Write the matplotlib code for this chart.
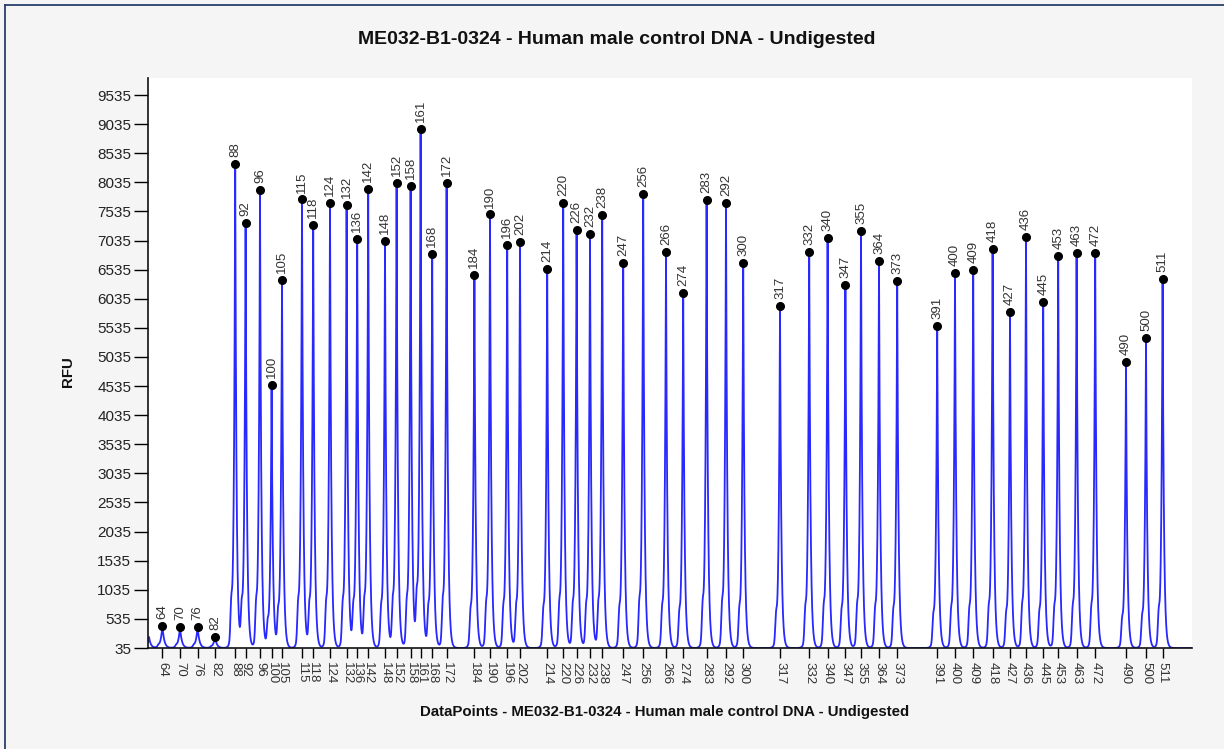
import numpy as np
import matplotlib
matplotlib.use("Agg")
import matplotlib.pyplot as plt
from matplotlib.lines import Line2D

plt.rcParams['font.family'] = ['Liberation Sans', 'DejaVu Sans']

# Fragment sizes (bp), scan position (data points) and peak height (RFU)
sizes = [64, 70, 76, 82, 88, 92, 96, 100, 105, 115, 118, 124, 132, 136, 142, 148,
         152, 158, 161, 168, 172, 184, 190, 196, 202, 214, 220, 226, 232, 238, 247,
         256, 266, 274, 283, 292, 300, 317, 332, 340, 347, 355, 364, 373, 391, 400,
         409, 418, 427, 436, 445, 453, 463, 472, 490, 500, 511]
scans = [72, 160, 248, 335, 436, 488, 560, 618, 670, 770, 826, 910, 993, 1046, 1101, 1185,
         1243, 1313, 1363, 1421, 1493, 1632, 1710, 1796, 1860, 1996, 2076, 2143, 2210, 2271, 2376,
         2476, 2590, 2676, 2793, 2890, 2976, 3160, 3306, 3398, 3487, 3565, 3655, 3746, 3946, 4035,
         4126, 4223, 4310, 4390, 4476, 4551, 4643, 4736, 4890, 4990, 5073]
rfu = [419, 392, 397, 230, 8345, 7345, 7902, 4557, 6350, 7741, 7310, 7685, 7643, 7057, 7919, 7029,
       8017, 7965, 8953, 6805, 8022, 6436, 7483, 6965, 7017, 6552, 7677, 7219, 7150, 7471, 6650,
       7833, 6839, 6138, 7736, 7677, 6650, 5919, 6839, 7081, 6264, 7195, 6678, 6340, 5574, 6471,
       6522, 6897, 5816, 7098, 5988, 6764, 6827, 6816, 4948, 5362, 6379]

# unlabeled partial peak at left edge
edge_scan = [5]
edge_rfu = [225]

baseline = 35
ymax = 9828
xmax = 5220

# build the trace from the peaks
x = np.arange(0, xmax, 0.5)
y = np.zeros_like(x)
for s, h in zip(scans + edge_scan, rfu + edge_rfu):
    amp = h - baseline
    tau = 6.5 if amp > 1000 else 9.0
    y += amp * np.exp(-np.abs(x - s) / tau)
    # small stutter shoulder on the left
    y += 0.06 * amp * np.exp(-0.5 * ((x - s + 20) / 4.0) ** 2)
y += baseline

fig = plt.figure(figsize=(12.24, 7.49), dpi=100)
fig.patch.set_facecolor('#f5f5f5')
fig.lines.append(Line2D([4.5 / 1224, 1], [1 - 4.5 / 749, 1 - 4.5 / 749], transform=fig.transFigure,
                        color='#27406a', linewidth=1.3))
fig.lines.append(Line2D([4.5 / 1224, 4.5 / 1224], [0, 1 - 4.5 / 749], transform=fig.transFigure,
                        color='#27406a', linewidth=1.3))

ax = fig.add_axes([148 / 1224, 1 - 648 / 749, (1192 - 148) / 1224, (648 - 78) / 749])
ax.set_facecolor('white')
ax.plot(x, y, color='#1010ff', linewidth=1.3, alpha=0.9)
ax.plot(scans, rfu, 'o', color='black', markersize=5.5, zorder=5)
for s, h, lab in zip(scans, rfu, sizes):
    ax.annotate(str(lab), (s, h), xytext=(0, 5), textcoords='offset points',
                rotation=90, ha='center', va='bottom', fontsize=9.5, color='#333333')

ax.set_xlim(0, xmax)
ax.set_ylim(baseline, ymax)
ax.set_yticks(np.arange(35, 9536, 500))
ax.set_yticklabels([str(v) for v in range(35, 9536, 500)], fontsize=11, color='#222222')
ax.set_xticks(scans)
ax.set_xticklabels([str(v) for v in sizes], rotation=270, fontsize=9.5, color='#333333')
ax.tick_params(axis='y', length=10, width=1, pad=2)
ax.tick_params(axis='x', length=7, width=1, pad=3)
for sp in ['top', 'right']:
    ax.spines[sp].set_visible(False)
for sp in ['left', 'bottom']:
    ax.spines[sp].set_linewidth(1.2)
    ax.spines[sp].set_color('#111111')

fig.text(617 / 1224, 1 - 40 / 749, 'ME032-B1-0324 - Human male control DNA - Undigested',
         ha='center', va='center', fontsize=14, fontweight='bold', color='#111111')
fig.text(665 / 1224, 1 - 712 / 749,
         'DataPoints - ME032-B1-0324 - Human male control DNA - Undigested',
         ha='center', va='center', fontsize=10.8, fontweight='bold', color='#111111')
fig.text(68 / 1224, 1 - 372 / 749, 'RFU', rotation=90, ha='center', va='center',
         fontsize=10.8, fontweight='bold', color='#111111')

fig.savefig('out.png', dpi=100, facecolor=fig.get_facecolor())
